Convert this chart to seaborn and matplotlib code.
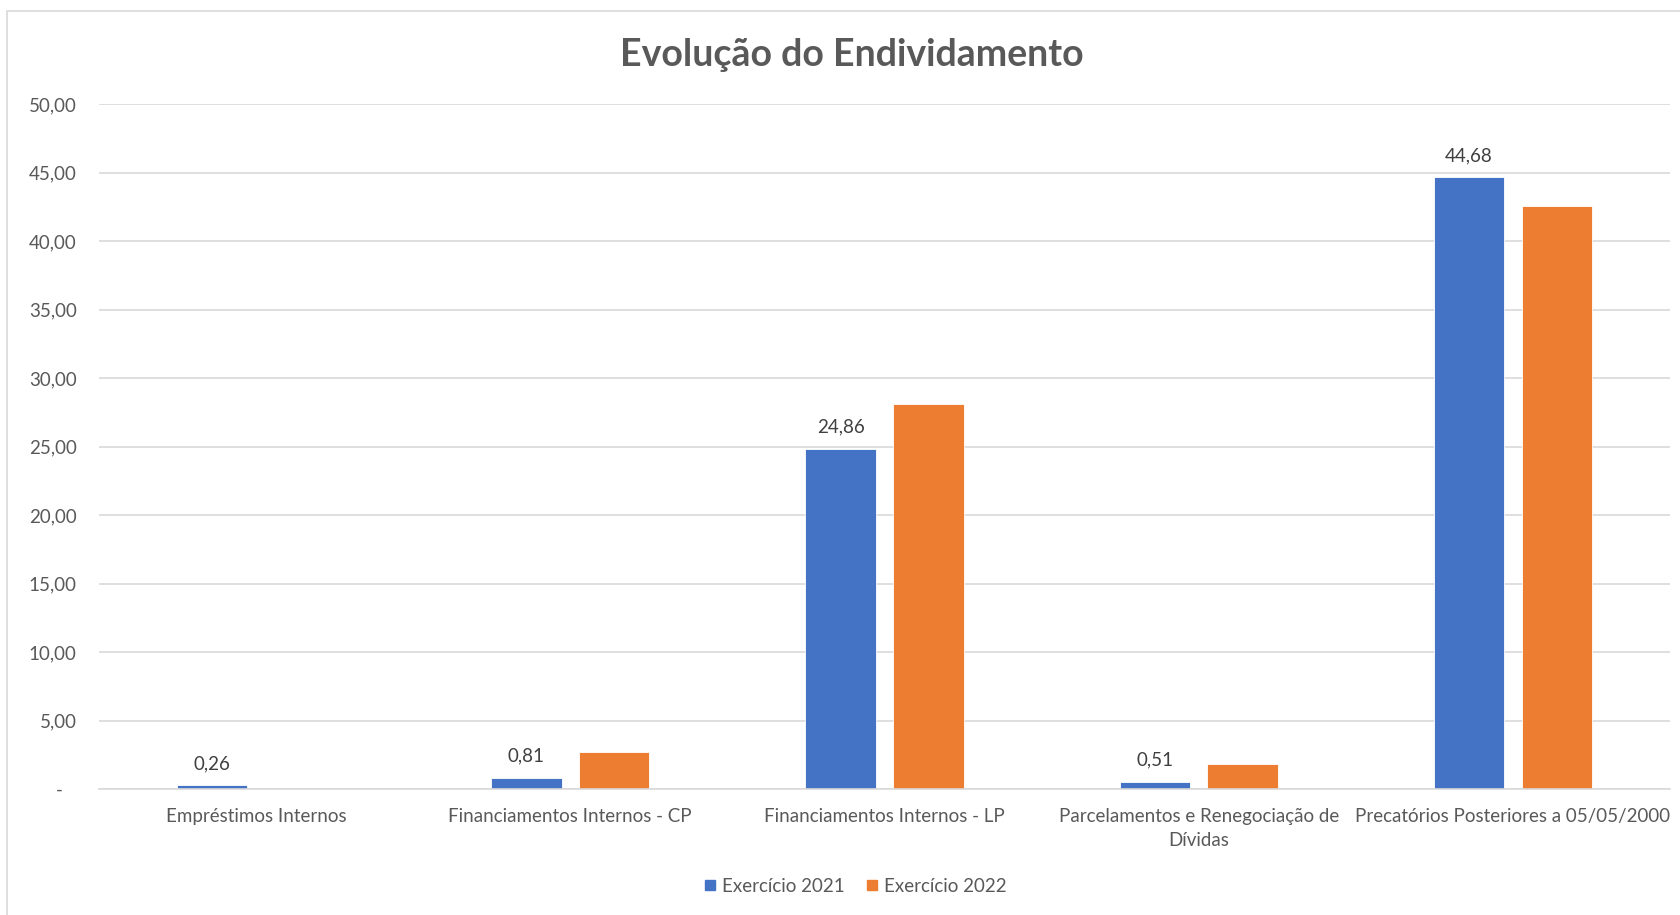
import matplotlib
matplotlib.use("Agg")
import matplotlib.pyplot as plt
import matplotlib.patches as mpatches
import seaborn as sns
import pandas as pd

categories = [
    "Empréstimos Internos",
    "Financiamentos Internos - CP",
    "Financiamentos Internos - LP",
    "Parcelamentos e Renegociação de\nDívidas",
    "Precatórios Posteriores a 05/05/2000",
]
series_names = ["Exercício 2021", "Exercício 2022"]
values_2021 = [0.26, 0.81, 24.86, 0.51, 44.68]
values_2022 = [0.0, 2.70, 28.15, 1.80, 42.55]
y_ticks = [0, 5, 10, 15, 20, 25, 30, 35, 40, 45, 50]
colors = ["#4472C4", "#ED7D31"]
title = "Evolução do Endividamento"

df = pd.DataFrame({
    "categoria": categories * 2,
    "serie": [series_names[0]] * len(categories) + [series_names[1]] * len(categories),
    "valor": values_2021 + values_2022,
})

sns.set_theme(style="white")
plt.rcParams["font.family"] = ["Lato", "DejaVu Sans"]

W, H = 1681, 915
fig = plt.figure(figsize=(W / 100, H / 100), dpi=100)
ax = fig.add_axes([99 / W, 1 - 789 / H, (1670 - 99) / W, (789 - 104.3) / H])

sns.barplot(data=df, x="categoria", y="valor", hue="serie", order=categories,
            hue_order=series_names, palette=colors, width=0.56, gap=0.2,
            saturation=1, ax=ax, legend=False, edgecolor="white", linewidth=0.6)

ax.set_ylim(0, 50)
ax.set_xlim(-0.5, len(categories) - 0.5)
ax.set_yticks(y_ticks)
ax.set_yticklabels(["-   " if v == 0 else f"{v:.2f}".replace(".", ",") for v in y_ticks])
ax.yaxis.grid(True, color="#D9D9D9", linewidth=1.2)
ax.set_axisbelow(True)
for s in ["top", "right", "left"]:
    ax.spines[s].set_visible(False)
ax.spines["bottom"].set_color("#D9D9D9")
ax.spines["bottom"].set_linewidth(1.2)
ax.set_xlabel("")
ax.set_ylabel("")
ax.tick_params(axis="y", length=0, pad=16, labelsize=13.5, labelcolor="#595959")
ax.tick_params(axis="x", length=0, pad=13.5, labelsize=13.5, labelcolor="#595959")
for t in ax.get_xticklabels():
    t.set_linespacing(1.5)

labels_2021 = [f"{v:.2f}".replace(".", ",") for v in values_2021]
ax.bar_label(ax.containers[0], labels=labels_2021, padding=9.5, fontsize=13.5, color="#404040")

fig.text(852 / W, 1 - 55 / H, title, ha="center", va="center", fontsize=27,
         fontweight="bold", color="#595959")

handles = [mpatches.Patch(color=c, label=n) for c, n in zip(colors, series_names)]
fig.legend(handles=handles, loc="center", bbox_to_anchor=(856 / W, 1 - 886 / H), ncol=2,
           frameon=False, fontsize=13.5, handlelength=0.5, handleheight=0.5,
           handletextpad=0.4, columnspacing=1.2, labelcolor="#595959")

border = mpatches.Rectangle((7 / W, -0.1), 2.0, (H - 11) / H + 0.1, transform=fig.transFigure,
                            fill=False, edgecolor="#D9D9D9", linewidth=1.2, clip_on=False)
fig.patches.append(border)

fig.savefig("out.png", dpi=100, facecolor="white")
